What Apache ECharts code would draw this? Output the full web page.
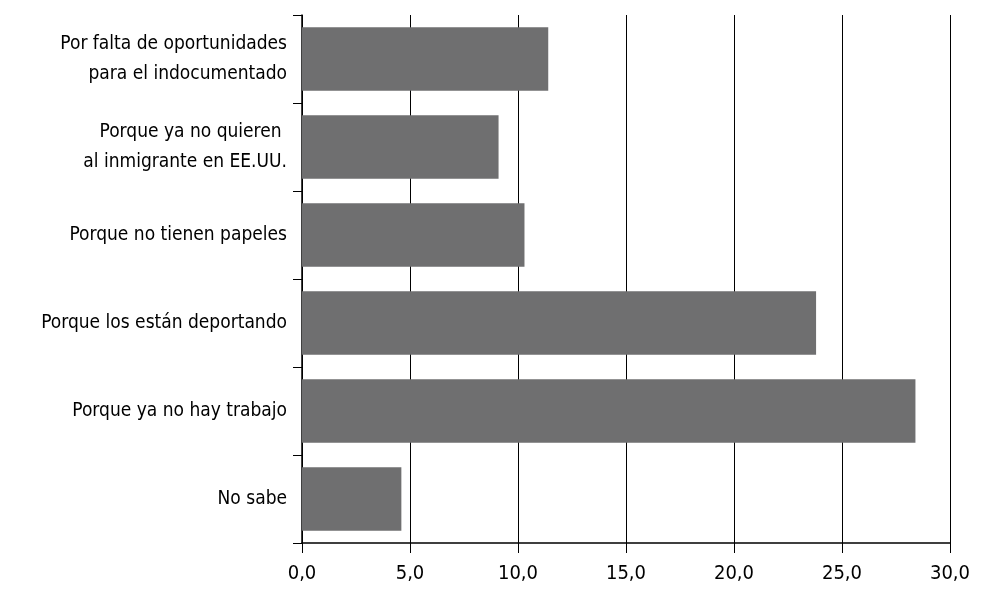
<!DOCTYPE html>
<html>
<head>
<meta charset="utf-8">
<script src="https://cdn.jsdelivr.net/npm/echarts@6/dist/echarts.min.js"></script>
<style>
  html, body { margin: 0; padding: 0; background: #fff; }
  #chart { width: 990px; height: 604px; }
</style>
</head>
<body>
<div id="chart"></div>
<script>
// categories top to bottom as in the picture
const categories = [
    'Por falta de oportunidades\npara el indocumentado',
    'Porque ya no quieren \nal inmigrante en EE.UU.',
    'Porque no tienen papeles',
    'Porque los están deportando',
    'Porque ya no hay trabajo',
    'No sabe'
];
const values = [11.4, 9.1, 10.3, 23.8, 28.4, 4.6];

const fontFamily = '"Liberation Sans Narrow", "DejaVu Sans Condensed", sans-serif';

const chart = echarts.init(document.getElementById('chart'));
chart.setOption({
    animation: false,
    grid: {
        left: 302,
        right: 40,
        top: 15,
        bottom: 61
    },
    xAxis: {
        type: 'value',
        min: 0,
        max: 30,
        interval: 5,
        axisLine: { show: true, lineStyle: { color: '#000', width: 1.5 } },
        axisTick: { show: true, length: 10, lineStyle: { color: '#000', width: 1 } },
        splitLine: { show: true, lineStyle: { color: '#000', width: 1 } },
        axisLabel: {
            color: '#000',
            fontFamily: fontFamily,
            fontSize: 20,
            margin: 21,
            formatter: function (v) {
                return v.toFixed(1).replace('.', ',');
            }
        }
    },
    yAxis: {
        type: 'category',
        inverse: true,
        data: categories,
        axisLine: { show: true, lineStyle: { color: '#000', width: 1.5 } },
        axisTick: { show: true, length: 9, lineStyle: { color: '#000', width: 1 } },
        axisLabel: {
            color: '#000',
            fontFamily: fontFamily,
            fontSize: 19,
            lineHeight: 30,
            margin: 15,
            align: 'right'
        }
    },
    series: [
        {
            type: 'bar',
            data: values,
            barCategoryGap: '28%',
            itemStyle: { color: '#6f6f70' }
        }
    ]
});
</script>
</body>
</html>
